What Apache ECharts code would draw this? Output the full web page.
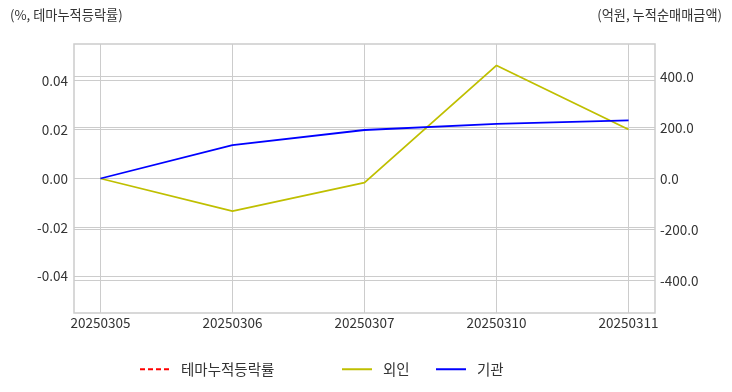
<!DOCTYPE html>
<html><head><meta charset="utf-8">
<script src="https://cdn.jsdelivr.net/npm/echarts@6/dist/echarts.min.js"></script>
<style>html,body{margin:0;padding:0;background:#fff}#c{width:732px;height:392px}</style>
</head><body><div id="c"></div>
<script>
const categories = ['20250305','20250306','20250307','20250310','20250311'];
const themeRate = [null, null, null, null, null];
const foreign = [0, -128, -16, 443, 192];
const institution = [0, 131, 190, 214, 228];
const leftTicks = [-0.04, -0.02, 0.00, 0.02, 0.04];
const rightTicks = [-400, -200, 0, 200, 400];

const FONT = '"Noto Sans CJK KR", "Noto Sans", sans-serif';
const toXY = arr => arr.map((v, i) => [i, v]);
const xTicks = categories.map((c, i) => i);
const chart = echarts.init(document.getElementById('c'), null, {renderer: 'canvas'});
const legendBase = {top: 362, itemWidth: 30, itemHeight: 10, padding: 0, itemStyle: {opacity: 0}, textStyle: {fontSize: 14.5, color: '#333', padding: [0,0,0,6], fontFamily: FONT}};
chart.setOption({
  animation: false,
  textStyle: {fontFamily: FONT},
  title: [
    {text: '(%, 테마누적등락률)', left: 10, top: 8, padding: 0, textStyle: {fontSize: 13.2, fontWeight: 'normal', color: '#333', fontFamily: FONT}},
    {text: '(억원, 누적순매매금액)', right: 10, top: 8, padding: 0, textStyle: {fontSize: 13.2, fontWeight: 'normal', color: '#333', fontFamily: FONT}}
  ],
  grid: {left: 74, right: 77, top: 44, bottom: 79, show: true, borderColor: '#cccccc', borderWidth: 1.5, containLabel: false},
  legend: [
    Object.assign({data: ['테마누적등락률'], left: 139}, legendBase),
    Object.assign({data: ['외인'], left: 341}, legendBase),
    Object.assign({data: ['기관'], left: 435}, legendBase)
  ],
  xAxis: {
    type: 'value', min: -0.2, max: 4.2,
    axisLine: {show: false},
    axisTick: {show: false, customValues: xTicks},
    splitLine: {show: true, lineStyle: {color: '#cccccc', width: 1}},
    axisLabel: {
      color: '#333', fontSize: 13.5, margin: 3, fontFamily: FONT,
      customValues: xTicks,
      formatter: v => categories[Math.round(v)] || ''
    }
  },
  yAxis: [
    {
      type: 'value', min: -0.055, max: 0.055, position: 'left',
      axisLine: {show: false},
      splitLine: {show: true, lineStyle: {color: '#cccccc', width: 1}},
      axisLabel: {
        color: '#333', fontSize: 13.5, margin: 6, fontFamily: FONT,
        customValues: leftTicks,
        formatter: v => v.toFixed(2)
      },
      axisTick: {show: false, customValues: leftTicks}
    },
    {
      type: 'value', min: -527, max: 527, position: 'right',
      axisLine: {show: false},
      splitLine: {show: true, lineStyle: {color: '#cccccc', width: 1}},
      axisLabel: {
        color: '#333', fontSize: 13.5, margin: 5, fontFamily: FONT,
        customValues: rightTicks,
        formatter: v => v.toFixed(1)
      },
      axisTick: {show: false, customValues: rightTicks}
    }
  ],
  series: [
    {name: '테마누적등락률', type: 'line', yAxisIndex: 0, data: toXY(themeRate), symbol: 'none', lineStyle: {color: '#ff0000', type: [5, 3], width: 1.8}, itemStyle: {color: '#ff0000'}},
    {name: '외인', type: 'line', yAxisIndex: 1, data: toXY(foreign), symbol: 'none', lineStyle: {color: '#bfbf00', width: 1.8}, itemStyle: {color: '#bfbf00'}},
    {name: '기관', type: 'line', yAxisIndex: 1, data: toXY(institution), symbol: 'none', lineStyle: {color: '#0000ff', width: 1.8}, itemStyle: {color: '#0000ff'}}
  ]
});
</script></body></html>
